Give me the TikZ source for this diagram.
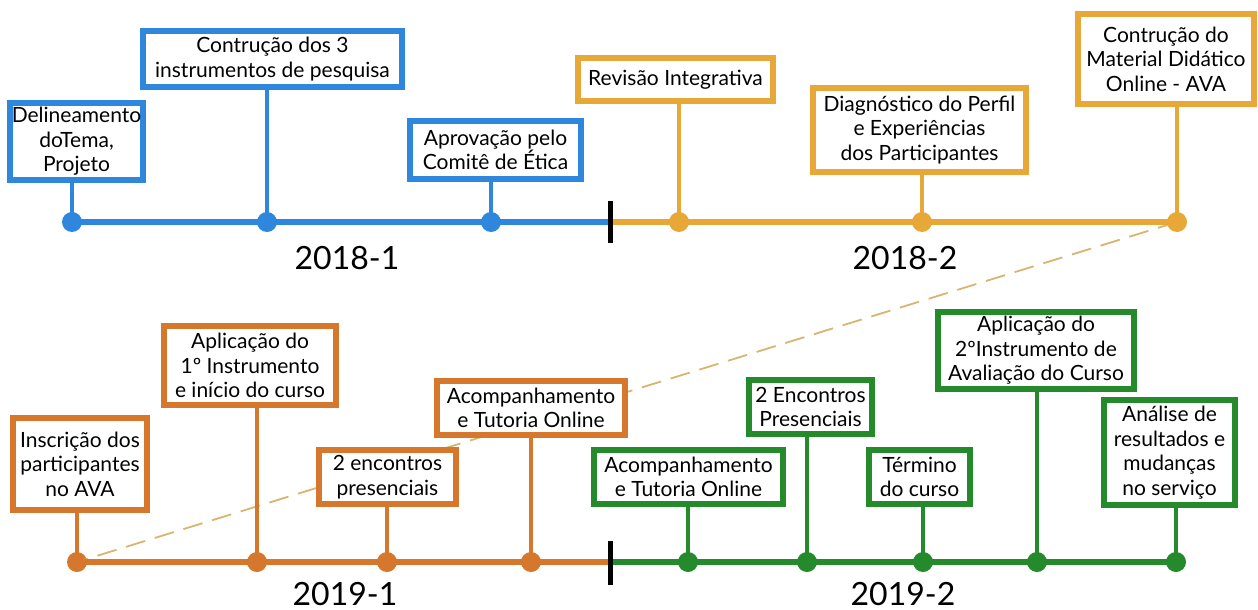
\documentclass[tikz,border=0pt]{standalone}
\usepackage{fontspec}
\setmainfont{Lato}
\definecolor{cblue}{HTML}{2F86DD}
\definecolor{cgold}{HTML}{E8A838}
\definecolor{corange}{HTML}{D5782E}
\definecolor{cgreen}{HTML}{258A2C}
\definecolor{cdash}{HTML}{D9B470}
\begin{document}
\begin{tikzpicture}[x=1pt,y=-1pt,
  box/.style={draw=#1, line width=6pt, fill=white, inner sep=0pt, align=center,
    font=\fontsize{21}{24.5}\selectfont},
  dot/.style={circle, fill=#1, inner sep=0pt, minimum size=20pt},
  axis/.style={draw=#1, line width=6pt},
  stem/.style={draw=#1, line width=4pt},
  year/.style={font=\fontsize{32}{36}\selectfont},
  tick/.style={draw=black, line width=5pt},
  link/.style={draw=cdash, line width=1.8pt, dash pattern=on 20pt off 10pt}]
\useasboundingbox (0,0) rectangle (1258,610);

% dots
\node[dot=cblue] (d1) at (72,222) {};
\node[dot=cblue] (d2) at (267,222) {};
\node[dot=cblue] (d3) at (491,222) {};
\node[dot=cgold] (d4) at (679,222) {};
\node[dot=cgold] (d5) at (922,222) {};
\node[dot=cgold] (d6) at (1177,222) {};
\node[dot=corange] (d7) at (77,562) {};
\node[dot=corange] (d8) at (257,562) {};
\node[dot=corange] (d9) at (387,562) {};
\node[dot=corange] (d10) at (531,562) {};
\node[dot=cgreen] (d11) at (688,562) {};
\node[dot=cgreen] (d12) at (807,562) {};
\node[dot=cgreen] (d13) at (923,562) {};
\node[dot=cgreen] (d14) at (1037,562) {};
\node[dot=cgreen] (d15) at (1176,562) {};

\coordinate (m1) at (610,222);
\coordinate (m2) at (610,562);
\coordinate (t1a) at (610,201);
\coordinate (t1b) at (610,243);
\coordinate (t2a) at (610,541);
\coordinate (t2b) at (610,585);

% dashed link
\draw[link] (d6.center) -- (d7.center);

% axes
\draw[axis=cblue] (d1.center) -- (m1);
\draw[axis=cgold] (m1) -- (d6.center);
\draw[axis=corange] (d7.center) -- (m2);
\draw[axis=cgreen] (m2) -- (d15.center);

% boxes
\node[box=cblue, minimum width=133pt, minimum height=77pt] (b1) at (76.5,141.5) {Delineamento\\doTema,\\Projeto};
\node[box=cblue, minimum width=259pt, minimum height=56pt] (b2) at (272.5,59) {Contrução dos 3\\instrumentos de pesquisa};
\node[box=cblue, minimum width=171pt, minimum height=58pt] (b3) at (495.5,150) {Aprovação pelo\\Comitê de Ética};
\node[box=cgold, minimum width=195pt, minimum height=43pt] (b4) at (675.5,79.5) {Revisão Integrativa};
\node[box=cgold, minimum width=213pt, minimum height=84pt] (b5) at (919.5,130) {Diagnóstico do Perfil\\e Experiências\\dos Participantes};
\node[box=cgold, minimum width=176pt, minimum height=90pt] (b6) at (1166,59) {Contrução do\\Material Didático\\Online - AVA};
\node[box=corange, minimum width=134pt, minimum height=92pt] (b7) at (80,464) {Inscrição dos\\participantes\\no AVA};
\node[box=corange, minimum width=172pt, minimum height=79pt] (b8) at (250,365.5) {Aplicação do\\1º Instrumento\\e início do curso};
\node[box=corange, minimum width=137pt, minimum height=54pt] (b9) at (387.5,477) {2 encontros\\presenciais};
\node[box=corange, minimum width=188pt, minimum height=54pt] (b10) at (531,408) {Acompanhamento\\e Tutoria Online};
\node[box=cgreen, minimum width=189pt, minimum height=54pt] (b11) at (688.5,477) {Acompanhamento\\e Tutoria Online};
\node[box=cgreen, minimum width=123pt, minimum height=54pt] (b12) at (810.5,407) {2 Encontros\\Presenciais};
\node[box=cgreen, minimum width=101pt, minimum height=54pt] (b13) at (919.5,477) {Término\\do curso};
\node[box=cgreen, minimum width=196pt, minimum height=77pt] (b14) at (1036,350.5) {Aplicação do\\2ºInstrumento de\\Avaliação do Curso};
\node[box=cgreen, minimum width=131pt, minimum height=105pt] (b15) at (1169.5,452.5) {Análise de\\resultados e\\mudanças\\no serviço};

% stems
\foreach \i/\c in {1/cblue,2/cblue,3/cblue,4/cgold,5/cgold,6/cgold,7/corange,8/corange,9/corange,10/corange,11/cgreen,12/cgreen,13/cgreen,14/cgreen,15/cgreen}
  \draw[stem=\c] (d\i.center) -- (d\i |- b\i.south);

% ticks
\draw[tick] (t1a) -- (t1b);
\draw[tick] (t2a) -- (t2b);

% years
\node[year] (y1) at (347,258) {2018-1};
\node[year] (y2) at (905,258) {2018-2};
\node[year] (y3) at (345,594) {2019-1};
\node[year] (y4) at (903,594) {2019-2};
\end{tikzpicture}
\end{document}
